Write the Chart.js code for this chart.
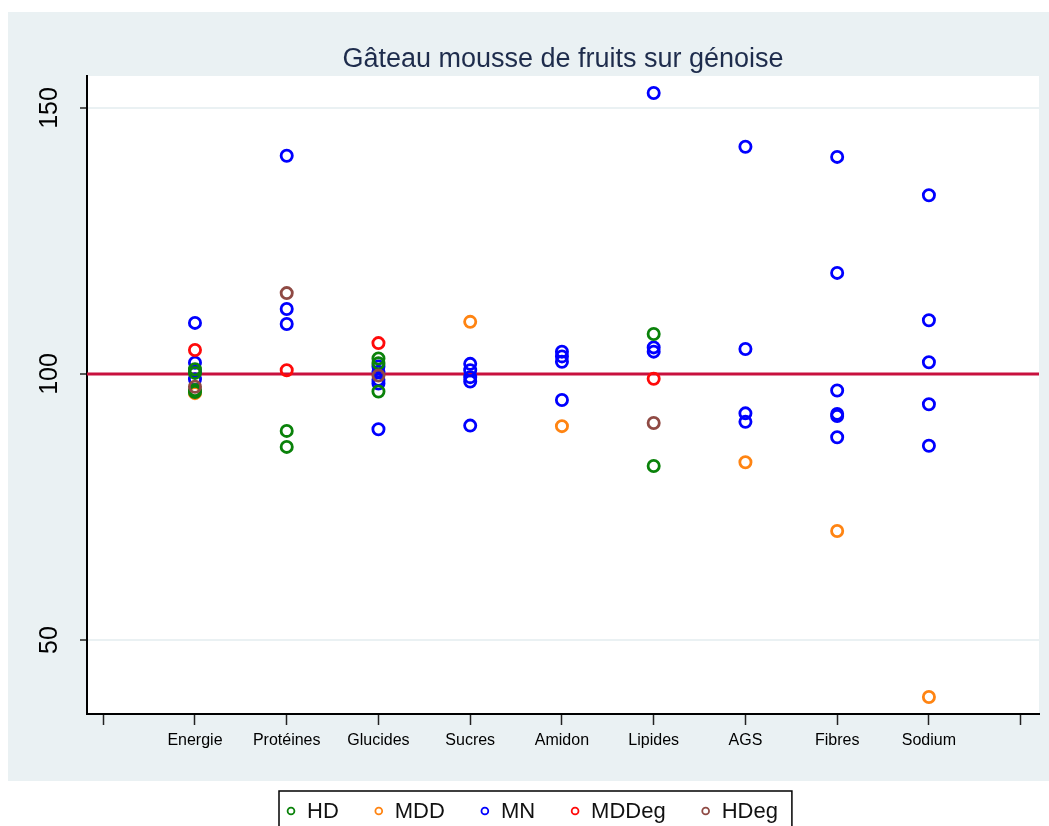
<!DOCTYPE html>
<html>
<head>
<meta charset="utf-8">
<script src="https://cdn.jsdelivr.net/npm/chart.js@4/dist/chart.umd.min.js"></script>
<style>
  html, body { margin: 0; padding: 0; background: #fff; }
  #wrap { width: 1049px; height: 826px; }
</style>
</head>
<body>
<div id="wrap"><canvas id="chart" width="1049" height="826"></canvas></div>
<script>
/* ---------- data ---------- */
const categories = ["Energie", "Protéines", "Glucides", "Sucres", "Amidon", "Lipides", "AGS", "Fibres", "Sodium"];
const yTicks = [50, 100, 150];
const refValue = 100;

// one list of values per category, same order as `categories`
const hd    = [[100.9, 100.2, 97.0, 96.6], [89.3, 86.3], [102.9, 102.0, 96.7], [], [], [107.5, 82.7], [], [], []];
const mdd   = [[96.4], [], [], [109.8], [90.2], [], [83.4], [70.5], [39.3]];
const mn    = [
    [109.6, 102.1, 100.4, 99.0],
    [141.0, 112.2, 109.4],
    [101.4, 100.4, 98.9, 98.2, 89.6],
    [101.9, 100.7, 99.4, 98.6, 90.3],
    [104.2, 103.3, 102.3, 95.1],
    [152.8, 105.0, 104.2],
    [142.7, 104.7, 92.6, 91.0],
    [140.8, 119.0, 96.9, 92.5, 92.1, 88.1],
    [133.6, 110.1, 102.2, 94.3, 86.5]
];
const mddeg = [[104.5], [100.7], [105.8], [], [], [99.1], [], [], []];
const hdeg  = [[97.6], [115.2], [99.7], [], [], [90.8], [], [], []];

const seriesNames  = ["HD", "MDD", "MN", "MDDeg", "HDeg"];
const seriesValues = [hd, mdd, mn, mddeg, hdeg];
const seriesColors = ["#0a820a", "#ff8412", "#0000ff", "#ff0a0a", "#8f4a44"];
const seriesOrder  = [2, 3, 4, 1, 0];   // lower = drawn on top

const BG = "#eaf1f3";
const FONT = "'Liberation Sans', Arial, sans-serif";

/* ---------- helpers ---------- */
function toPoints(lists) {
    return lists.flatMap((list, i) => list.map(v => ({ x: i + 1, y: v })));
}

const datasets = seriesNames.map((name, i) => ({
    label: name,
    data: toPoints(seriesValues[i]),
    order: seriesOrder[i],
    pointStyle: "circle",
    pointRadius: 5.6,
    pointHoverRadius: 5.6,
    pointBorderWidth: 2.8,
    borderColor: seriesColors[i],
    backgroundColor: "rgba(0,0,0,0)",
    showLine: false
}));

/* ---------- background, title, reference line, legend ---------- */
const decor = {
    id: "decor",
    beforeDraw(chart) {
        const { ctx, chartArea: a } = chart;
        ctx.save();
        ctx.fillStyle = "#fff";
        ctx.fillRect(0, 0, chart.width, chart.height);
        ctx.fillStyle = BG;
        ctx.fillRect(8, 12, chart.width - 8, 769);
        ctx.fillStyle = "#fff";
        ctx.fillRect(a.left, a.top, a.right - a.left, a.bottom - a.top);

        ctx.fillStyle = "#1e2c4c";
        ctx.font = "27px " + FONT;
        ctx.textAlign = "center";
        ctx.textBaseline = "alphabetic";
        ctx.fillText("Gâteau mousse de fruits sur génoise", (a.left + a.right) / 2, 67);
        ctx.restore();
    },
    beforeDatasetsDraw(chart) {
        const { ctx, chartArea: a, scales } = chart;
        const y = scales.y.getPixelForValue(refValue);
        ctx.save();
        ctx.strokeStyle = "#c8103e";
        ctx.lineWidth = 3;
        ctx.beginPath();
        ctx.moveTo(a.left, y);
        ctx.lineTo(a.right, y);
        ctx.stroke();
        ctx.restore();
    },
    afterDraw(chart) {
        const { ctx } = chart;
        ctx.save();
        ctx.font = "22px " + FONT;
        ctx.textBaseline = "middle";
        ctx.textAlign = "left";
        const yMid = 812;
        let x = 291;
        seriesNames.forEach((name, i) => {
            ctx.strokeStyle = seriesColors[i];
            ctx.lineWidth = 1.8;
            ctx.beginPath();
            ctx.arc(x, yMid - 1, 3.4, 0, Math.PI * 2);
            ctx.stroke();
            ctx.fillStyle = "#111";
            ctx.fillText(name, x + 16, yMid);
            x += 16 + ctx.measureText(name).width + 40;
        });
        const right = x - 40 + 14;
        ctx.strokeStyle = "#000";
        ctx.lineWidth = 1.5;
        ctx.strokeRect(279, 791, right - 279, 60);
        ctx.restore();
    }
};

/* ---------- chart ---------- */
new Chart(document.getElementById("chart"), {
    type: "scatter",
    data: { datasets },
    plugins: [decor],
    options: {
        responsive: false,
        animation: false,
        layout: { padding: { left: 8, top: 76, right: 10, bottom: 45 } },
        plugins: {
            legend: { display: false },
            title: { display: false },
            tooltip: { enabled: false }
        },
        scales: {
            x: {
                type: "linear",
                min: -0.177,
                max: 10.2,
                afterBuildTicks: s => { s.ticks = categories.concat(["", ""]).map((_, i) => ({ value: i })); },
                afterFit: s => { s.height = 67; },
                ticks: {
                    autoSkip: false,
                    maxRotation: 0,
                    padding: 6,
                    color: "#000",
                    font: { family: FONT, size: 16 },
                    callback: v => categories[v - 1] || ""
                },
                grid: { drawOnChartArea: false, tickLength: 11, tickColor: "#222", tickWidth: 1.5 },
                border: { color: "#000", width: 2 }
            },
            y: {
                min: 36.1,
                max: 156,
                afterBuildTicks: s => { s.ticks = yTicks.map(v => ({ value: v })); },
                afterFit: s => { s.width = 79; },
                ticks: {
                    minRotation: 90,
                    maxRotation: 90,
                    crossAlign: "center",
                    padding: 9,
                    color: "#000",
                    font: { family: FONT, size: 25 }
                },
                grid: { color: BG, lineWidth: 2, tickColor: "#222", tickLength: 7, tickWidth: 1.5 },
                border: { color: "#000", width: 2 }
            }
        }
    }
});
</script>
</body>
</html>
